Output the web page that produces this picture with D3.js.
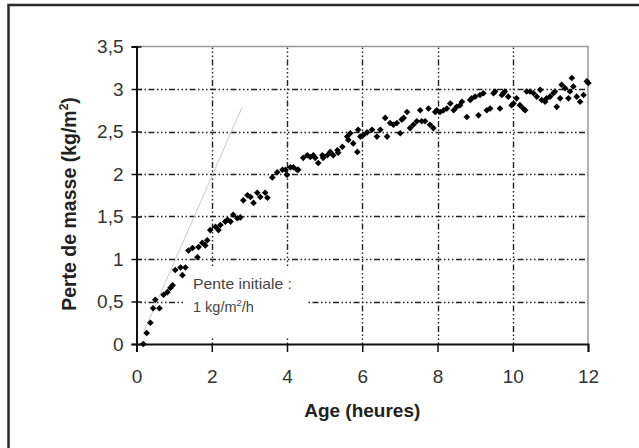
<!DOCTYPE html>
<html><head><meta charset="utf-8">
<script src="https://cdn.jsdelivr.net/npm/d3@7"></script>
<style>body{margin:0;background:#fff;overflow:hidden}svg{display:block}</style>
</head><body><svg id="c" width="639" height="448"></svg>
<script>
const xTicks = [0, 2, 4, 6, 8, 10, 12];
const yTicks = [0, 0.5, 1, 1.5, 2, 2.5, 3, 3.5];
const yTickLabels = ["0", "0,5", "1", "1,5", "2", "2,5", "3", "3,5"];
const xGrid = [2, 4, 6, 8, 10];
const yGrid = [0.5, 1, 1.5, 2, 2.5, 3];

const ageHours = [
  0.18,0.27,0.37,0.44,0.50,0.61,0.72,0.82,0.90,0.96,1.03,1.17,1.22,1.30,1.38,1.49,1.62,1.65,1.75,1.83,
  1.88,1.96,2.10,2.18,2.23,2.36,2.42,2.50,2.57,2.68,2.76,2.84,2.95,3.03,3.11,3.21,3.29,3.42,3.48,3.61,
  3.74,3.88,3.96,4.00,4.09,4.17,4.27,4.30,4.43,4.54,4.62,4.70,4.75,4.83,4.94,4.96,5.07,5.15,5.23,5.34,
  5.36,5.47,5.60,5.63,5.68,5.76,5.87,5.89,5.95,6.03,6.13,
  6.26,6.39,6.48,6.61,6.66,6.74,6.83,6.92,7.01,7.05,7.10,7.19,7.27,7.36,7.45,7.54,7.58,7.67,7.76,7.80,7.89,
  7.94,7.98,8.07,8.16,8.25,8.34,8.43,8.51,8.60,8.65,8.78,8.87,8.91,9.00,9.09,9.13,9.22,9.31,9.40,9.49,
  9.53,9.66,9.71,9.75,9.79,9.88,9.97,10.02,10.10,10.19,10.28,10.33,10.37,10.46,10.55,10.64,10.73,10.77,10.86,10.90,
  10.99,11.08,11.12,11.17,11.26,11.30,11.39,11.48,11.52,11.57,11.61,11.70,11.79,11.88,11.97,12.01
];
const massLoss = [
  0.00,0.13,0.25,0.42,0.52,0.42,0.58,0.61,0.66,0.69,0.87,0.90,0.81,0.90,1.10,1.13,1.02,1.14,1.19,1.16,
  1.22,1.34,1.38,1.34,1.40,1.44,1.46,1.44,1.52,1.48,1.49,1.69,1.75,1.73,1.66,1.78,1.73,1.78,1.72,1.96,
  2.02,2.05,2.05,1.99,2.08,2.08,2.05,2.05,2.19,2.22,2.20,2.22,2.19,2.13,2.22,2.19,2.22,2.26,2.22,2.28,
  2.25,2.32,2.44,2.40,2.48,2.36,2.26,2.52,2.44,2.46,2.49,
  2.52,2.44,2.52,2.66,2.44,2.60,2.58,2.60,2.48,2.64,2.66,2.73,2.54,2.58,2.62,2.75,2.62,2.62,2.77,2.58,2.54,
  2.73,2.75,2.73,2.75,2.77,2.83,2.75,2.79,2.81,2.85,2.67,2.87,2.89,2.91,2.69,2.93,2.95,2.75,2.77,2.95,
  2.97,2.77,2.93,2.95,2.97,2.91,2.81,2.83,2.89,2.81,2.77,2.75,2.97,2.97,2.95,2.91,2.99,2.87,2.85,2.89,
  2.91,2.95,2.97,2.79,2.89,3.05,3.01,2.89,2.97,3.13,3.03,2.91,2.85,2.93,3.09,3.07
];
const slopeX = [0.2, 2.8];
const slopeY = [0.15, 2.78];

const xTitle = "Age (heures)";
const annot1 = "Pente initiale :";

const svg = d3.select("#c");
const L = 136.5, R = 588, T = 46.5, B = 344;
const x = d3.scaleLinear().domain([0, 12]).range([L, R]);
const y = d3.scaleLinear().domain([0, 3.5]).range([B, T]);
const font = "'Liberation Sans', Arial, sans-serif";

// outer frame
svg.append("rect").attr("x", 8.5).attr("y", 5).attr("width", 700).attr("height", 500)
  .attr("fill", "#fff").attr("stroke", "#2a2a2a").attr("stroke-width", 2.5);

// plot background
svg.append("rect").attr("x", L).attr("y", T).attr("width", R - L).attr("height", B - T).attr("fill", "#fff");

const dash = "1.5,2.5,1.5,2.5,1.5,2.5,6,2.5";
const g = svg.append("g");
g.selectAll("line.hg").data(yGrid).join("line")
  .attr("x1", L).attr("x2", R).attr("y1", d => Math.round(y(d)) + 0.5).attr("y2", d => Math.round(y(d)) + 0.5)
  .attr("stroke", "#222").attr("stroke-width", 1.4).attr("stroke-dasharray", dash);
g.selectAll("line.vg").data(xGrid).join("line")
  .attr("y1", B).attr("y2", T).attr("x1", d => Math.round(x(d)) + 0.5).attr("x2", d => Math.round(x(d)) + 0.5)
  .attr("stroke", "#222").attr("stroke-width", 1.4).attr("stroke-dasharray", dash);

// plot border top/right
svg.append("path").attr("d", `M${L},${T}H${R}V${B}`).attr("fill", "none")
  .attr("stroke", "#999").attr("stroke-width", 1.5);

// annotation white box
svg.append("rect").attr("x", 183).attr("y", 266).attr("width", 125).attr("height", 70).attr("fill", "#fff");

// slope line
svg.append("line")
  .attr("x1", x(slopeX[0])).attr("y1", y(slopeY[0])).attr("x2", x(slopeX[1])).attr("y2", y(slopeY[1]))
  .attr("stroke", "#c8c8c8").attr("stroke-width", 1);

// axes
const xAxis = d3.axisBottom(x).tickValues(xTicks).tickSize(8).tickPadding(18).tickFormat(d3.format("d"));
const gx = svg.append("g").attr("transform", `translate(0,${B})`).call(xAxis);
gx.select(".domain").attr("stroke", "#111").attr("stroke-width", 2);
gx.selectAll(".tick line").attr("stroke", "#111").attr("stroke-width", 1.5);
gx.selectAll(".tick text").attr("font-family", font).attr("font-size", 19).attr("fill", "#333");

const yAxis = d3.axisLeft(y).tickValues(yTicks).tickSize(5).tickPadding(8)
  .tickFormat((d, i) => yTickLabels[i]);
const gy = svg.append("g").attr("transform", `translate(${L},0)`).call(yAxis);
gy.select(".domain").attr("stroke", "#111").attr("stroke-width", 2);
gy.selectAll(".tick line").attr("x1", 5).attr("x2", -5).attr("stroke", "#111").attr("stroke-width", 1.5);
gy.selectAll(".tick text").attr("font-family", font).attr("font-size", 19).attr("fill", "#333");

// data points
const n = Math.min(ageHours.length, massLoss.length);
const pts = d3.range(n).map(i => [ageHours[i], massLoss[i]]);
const sym = d3.symbol(d3.symbolSquare, 22);
svg.append("g").selectAll("path").data(pts).join("path")
  .attr("d", sym)
  .attr("transform", d => `translate(${x(d[0])},${y(d[1])}) rotate(45)`)
  .attr("fill", "#000");

// titles
svg.append("text").attr("x", (L + R) / 2).attr("y", 417).attr("text-anchor", "middle")
  .attr("font-family", font).attr("font-size", 19).attr("font-weight", "bold").attr("fill", "#222")
  .text(xTitle);

const yt = svg.append("text").attr("transform", "translate(76,204) rotate(-90)").attr("text-anchor", "middle")
  .attr("font-family", font).attr("font-size", 19.5).attr("font-weight", "bold").attr("fill", "#222");
yt.append("tspan").text("Perte de masse (kg/m");
yt.append("tspan").attr("font-size", 12).attr("dy", -8).text("2");
yt.append("tspan").attr("dy", 8).text(")");

// annotation
svg.append("text").attr("x", 193).attr("y", 289).attr("font-family", font).attr("font-size", 14.5)
  .attr("fill", "#444").attr("textLength", 99).attr("lengthAdjust", "spacingAndGlyphs").text(annot1);
const a2 = svg.append("text").attr("x", 193).attr("y", 312).attr("font-family", font).attr("font-size", 14.5)
  .attr("fill", "#444");
a2.append("tspan").text("1 kg/m");
a2.append("tspan").attr("font-size", 9.5).attr("dy", -6).text("2");
a2.append("tspan").attr("dy", 6).text("/h");
</script>
</body></html>
